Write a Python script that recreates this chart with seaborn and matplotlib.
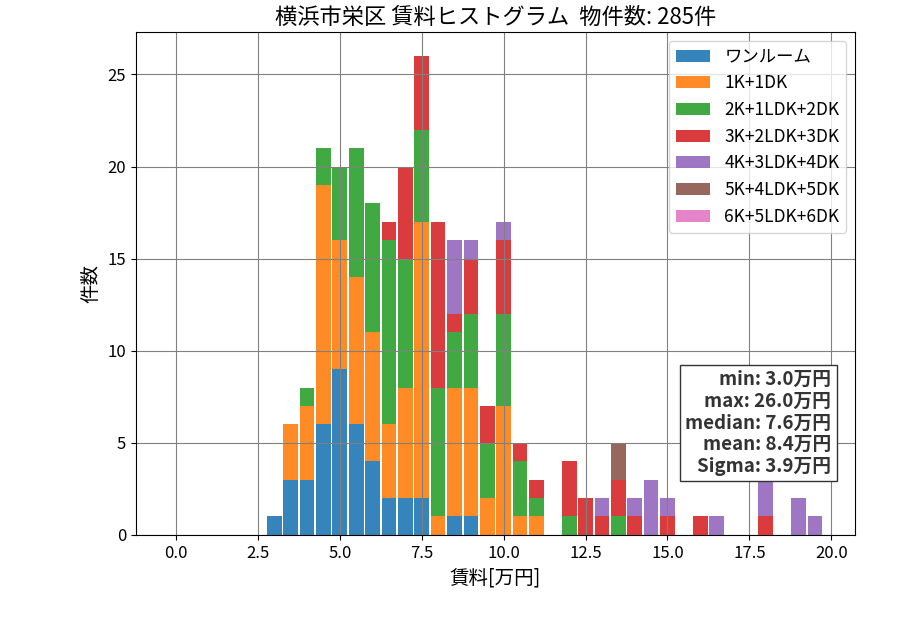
import numpy as np
import pandas as pd
import matplotlib
matplotlib.use('Agg')
import matplotlib.pyplot as plt
import seaborn as sns
from matplotlib.patches import Patch

plt.rcParams['font.family'] = ['Noto Sans CJK JP', 'DejaVu Sans']

# bin left edges [万円] and counts per layout type
madori = ['ワンルーム', '1K+1DK', '2K+1LDK+2DK', '3K+2LDK+3DK',
          '4K+3LDK+4DK', '5K+4LDK+5DK', '6K+5LDK+6DK']

one_room_x = [3.0, 3.5, 4.0, 4.5, 5.0, 5.5, 6.0, 6.5, 7.0, 7.5, 8.5, 9.0]
one_room_n = [1, 3, 3, 6, 9, 6, 4, 2, 2, 2, 1, 1]

k1_x = [3.5, 4.0, 4.5, 5.0, 5.5, 6.0, 6.5, 7.0, 7.5, 8.0, 8.5, 9.0, 9.5, 10.0, 10.5, 11.0]
k1_n = [3, 4, 13, 7, 8, 7, 4, 6, 15, 1, 7, 7, 2, 7, 1, 1]

k2_x = [4.0, 4.5, 5.0, 5.5, 6.0, 6.5, 7.0, 7.5, 8.0, 8.5, 9.0, 9.5, 10.0, 10.5, 11.0, 12.0, 13.5]
k2_n = [1, 2, 4, 7, 7, 10, 7, 5, 7, 3, 4, 3, 5, 3, 1, 1, 1]

k3_x = [6.5, 7.0, 7.5, 8.0, 8.5, 9.0, 9.5, 10.0, 10.5, 11.0, 12.0, 12.5, 13.0, 13.5, 14.0, 15.0, 16.0, 18.0]
k3_n = [1, 5, 4, 9, 1, 3, 2, 4, 1, 1, 3, 2, 1, 2, 1, 1, 1, 1]

k4_x = [8.5, 9.0, 10.0, 13.0, 14.0, 14.5, 15.0, 16.5, 18.0, 19.0, 19.5]
k4_n = [4, 1, 1, 1, 1, 3, 1, 1, 2, 2, 1]

k5_x = [13.5]
k5_n = [2]

k6_x = []
k6_n = []

stats = ['min: 3.0万円', 'max: 26.0万円', 'median: 7.6万円', 'mean: 8.4万円', 'Sigma: 3.9万円']
total = 285

rows = []
for name, xs, ns in zip(madori,
                        [one_room_x, k1_x, k2_x, k3_x, k4_x, k5_x, k6_x],
                        [one_room_n, k1_n, k2_n, k3_n, k4_n, k5_n, k6_n]):
    for x, n in zip(xs, ns):
        rows.append({'rent': x, 'count': n, 'madori': name})
df = pd.DataFrame(rows)

colors = sns.color_palette('tab10', len(madori))
pal = dict(zip(madori, colors))
present = [m for m in madori if m in set(df['madori'])]

fig = plt.figure(figsize=(9, 6.3), dpi=100)
ax = fig.add_axes([0.151, 0.151, 0.799, 0.798])

sns.histplot(data=df, x='rent', weights='count', hue='madori',
             hue_order=present[::-1], palette=pal, multiple='stack',
             binwidth=0.5, binrange=(-0.25, 19.75), shrink=0.9, alpha=0.9,
             edgecolor='none', linewidth=0, legend=False, ax=ax)

ax.grid(True, color='gray')
ax.set_title(f'横浜市栄区 賃料ヒストグラム  物件数: {total}件', fontsize=16)
ax.set_xlabel('賃料[万円]', fontsize=14)
ax.set_ylabel('件数', fontsize=14)
ax.tick_params(labelsize=12)

handles = [Patch(facecolor=pal[m], alpha=0.9) for m in madori]
ax.legend(handles, madori, loc='upper right', fontsize=12.5)

ax.text(0.967, 0.118, '\n'.join(stats), transform=ax.transAxes,
        ha='right', va='bottom', fontsize=13.5, fontweight='bold',
        color='#333333', linespacing=1.17,
        bbox=dict(facecolor='white', edgecolor='#333333', boxstyle='square,pad=0.3'))

fig.savefig('out.png', dpi=100)
